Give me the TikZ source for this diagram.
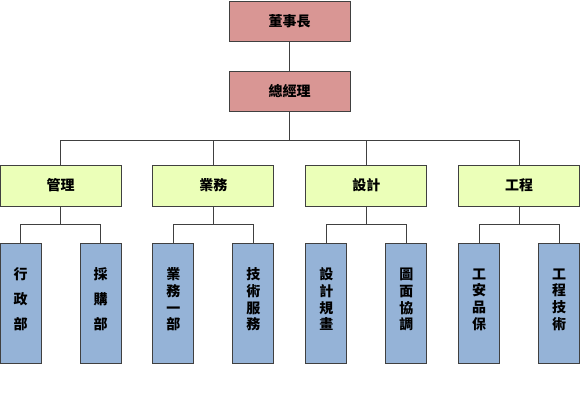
\documentclass[tikz,border=0pt]{standalone}
\usepackage{fontspec}
\newfontfamily\cjk{Noto Sans CJK TC}
\usetikzlibrary{positioning}

\definecolor{topred}{HTML}{D99694}
\definecolor{midgreen}{HTML}{EBFFB8}
\definecolor{subblue}{HTML}{95B3D7}
\definecolor{edgegray}{HTML}{404040}

\begin{document}
\begin{tikzpicture}[
  x=1pt, y=1pt,
  every node/.style = {align=center, inner sep=0pt},
  topbox/.style = {draw=edgegray, fill=topred, line width=0.9pt,
                   minimum width=121pt, minimum height=40pt,
                   font=\cjk\bfseries\fontsize{14}{16}\selectfont},
  midbox/.style = {draw=edgegray, fill=midgreen, line width=0.9pt,
                   minimum width=121pt, minimum height=41pt,
                   font=\cjk\bfseries\fontsize{14}{16}\selectfont},
  subbox/.style = {draw=edgegray, fill=subblue, line width=0.9pt,
                   minimum width=41pt, minimum height=120pt,
                   text depth=10pt},
  subthree/.style = {subbox, font=\cjk\bfseries\fontsize{14}{25}\selectfont},
  subfour/.style  = {subbox, font=\cjk\bfseries\fontsize{14}{16.7}\selectfont},
  link/.style   = {draw=edgegray, line width=0.9pt},
]
\useasboundingbox (0,0) rectangle (580,-394);

% Top of the chart
\node[topbox] (boss) at (289.5,-21.5) {董事長};
\node[topbox, below=29pt of boss] (gm) {總經理};

% Departments
\node[midbox] (m1) at (60.5,-185.5) {管理};
\node[midbox, right=31pt of m1] (m2) {業務};
\node[midbox, right=31pt of m2] (m3) {設計};
\node[midbox, right=31pt of m3] (m4) {工程};

% Sections
\node[subthree, below right=37pt and 0pt of m1.south west] (s11) {行\\政\\部};
\node[subthree, below left=37pt and 0pt of m1.south east]  (s12) {採\\購\\部};
\node[subfour,  below right=37pt and 0pt of m2.south west] (s21) {業\\務\\一\\部};
\node[subfour,  below left=37pt and 0pt of m2.south east]  (s22) {技\\術\\服\\務};
\node[subfour,  below right=37pt and 0pt of m3.south west] (s31) {設\\計\\規\\畫};
\node[subfour,  below left=37pt and 0pt of m3.south east]  (s32) {圖\\面\\協\\調};
\node[subfour,  below right=37pt and 0pt of m4.south west] (s41) {工\\安\\品\\保};
\node[subfour,  below left=37pt and 0pt of m4.south east]  (s42) {工\\程\\技\\術};

% Upper links
\coordinate[below=29pt of gm.south] (bus);
\draw[link] (boss.south) -- (gm.north);
\draw[link] (gm.south) -- (bus);
\draw[link] (m1.north) |- (bus) -| (m4.north);
\draw[link] (bus -| m2.north) -- (m2.north);
\draw[link] (bus -| m3.north) -- (m3.north);

% Lower links
\foreach \d in {1,2,3,4} {
  \coordinate[below=18pt of m\d.south] (b\d);
  \draw[link] (m\d.south) -- (b\d);
  \draw[link] (s\d1.north) |- (b\d) -| (s\d2.north);
}
\end{tikzpicture}
\end{document}
